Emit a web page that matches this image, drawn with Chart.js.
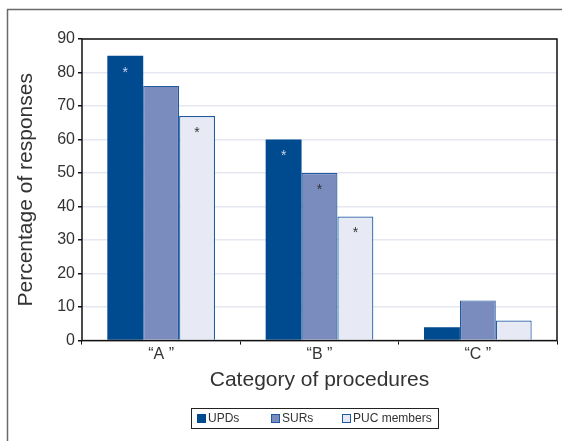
<!DOCTYPE html>
<html>
<head>
<meta charset="utf-8">
<script src="https://cdn.jsdelivr.net/npm/chart.js@4/dist/chart.umd.min.js"></script>
<style>
  html, body { margin: 0; padding: 0; background: #fff; }
  #wrap { width: 562px; height: 441px; position: relative; }
</style>
</head>
<body>
<div id="wrap"><canvas id="chart"></canvas></div>
<script>
// categories and values
const categories = ['\u201CA \u201D', '\u201CB \u201D', '\u201CC \u201D'];
const seriesNames = ['UPDs', 'SURs', 'PUC members'];
const updsValues = [85, 60, 4];
const surValues = [76, 50, 12];
const pucValues = [67, 37, 6];
// which bars carry the significance asterisk
const updsStars = [true, true, false];
const surStars = [false, true, false];
const pucStars = [true, true, false];

const fillColors = ['#004a8f', '#7a8bbd', '#e7eaf4'];
const edgeColors = ['#004a8f', '#1f5aa0', '#1f5aa0'];
const starColors = ['#c9d2ea', '#333', '#333'];
const allValues = [updsValues, surValues, pucValues];
const allStars = [updsStars, surStars, pucStars];

const font = "'Liberation Sans', Arial, sans-serif";

// outer frame, box round the plot, asterisks, legend
const decorPlugin = {
    id: 'decor',
    beforeDraw(chart) {
        const ctx = chart.ctx;
        ctx.save();
        ctx.strokeStyle = '#6a6a6a';
        ctx.lineWidth = 1.5;
        ctx.beginPath();
        ctx.moveTo(7.5, 441);
        ctx.lineTo(7.5, 9.5);
        ctx.lineTo(562, 9.5);
        ctx.stroke();
        ctx.restore();
    },
    afterDraw(chart) {
        const ctx = chart.ctx;
        const a = chart.chartArea;
        ctx.save();
        ctx.strokeStyle = '#111';
        ctx.lineWidth = 1.5;
        ctx.strokeRect(a.left, a.top, a.right - a.left, a.bottom - a.top);

        ctx.font = '14px ' + font;
        ctx.textAlign = 'center';
        ctx.textBaseline = 'middle';
        chart.data.datasets.forEach((ds, i) => {
            const meta = chart.getDatasetMeta(i);
            meta.data.forEach((bar, j) => {
                if (!allStars[i][j]) return;
                ctx.fillStyle = starColors[i];
                ctx.fillText('*', bar.x, bar.y + 17);
            });
        });

        // legend
        const lx = 191, ly = 408, lw = 247, lh = 20;
        ctx.strokeStyle = '#222';
        ctx.lineWidth = 1;
        ctx.strokeRect(lx + 0.5, ly + 0.5, lw, lh);
        const itemX = [197, 271, 342];
        ctx.font = '12px ' + font;
        ctx.textAlign = 'left';
        seriesNames.forEach((name, i) => {
            ctx.fillStyle = fillColors[i];
            ctx.fillRect(itemX[i], ly + 6, 9, 9);
            ctx.strokeStyle = edgeColors[i];
            ctx.strokeRect(itemX[i] + 0.5, ly + 6.5, 8, 8);
            ctx.fillStyle = '#333';
            ctx.fillText(name, itemX[i] + 11, ly + 11);
        });
        ctx.restore();
    }
};

new Chart(document.getElementById('chart'), {
    type: 'bar',
    data: {
        labels: categories,
        datasets: seriesNames.map((name, i) => ({
            label: name,
            data: allValues[i],
            backgroundColor: fillColors[i],
            borderColor: edgeColors[i],
            borderWidth: i === 0 ? 0 : 1.2,
            borderSkipped: 'bottom',
            barPercentage: 1,
            categoryPercentage: 0.68
        }))
    },
    options: {
        responsive: true,
        maintainAspectRatio: false,
        animation: false,
        layout: { padding: { top: 39, right: 5, left: 14, bottom: 48 } },
        plugins: {
            legend: { display: false },
            tooltip: { enabled: false }
        },
        scales: {
            x: {
                grid: { display: true, drawOnChartArea: false, color: '#111', tickLength: 4 },
                border: { display: false },
                ticks: { color: '#333', font: { family: font, size: 16 }, padding: 0 },
                title: {
                    display: true,
                    text: 'Category of procedures',
                    color: '#333',
                    font: { family: font, size: 21 },
                    padding: { top: 4, bottom: 0 }
                }
            },
            y: {
                min: 0,
                max: 90,
                ticks: { stepSize: 10, color: '#333', font: { family: font, size: 16 }, padding: 3 },
                grid: { color: '#e6e8f1', lineWidth: 1.5, tickLength: 4, tickColor: '#111' },
                border: { display: false },
                title: {
                    display: true,
                    text: 'Percentage of responses',
                    color: '#333',
                    font: { family: font, size: 21 },
                    padding: { top: 0, bottom: 15 }
                }
            }
        }
    },
    plugins: [decorPlugin]
});
</script>
</body>
</html>
